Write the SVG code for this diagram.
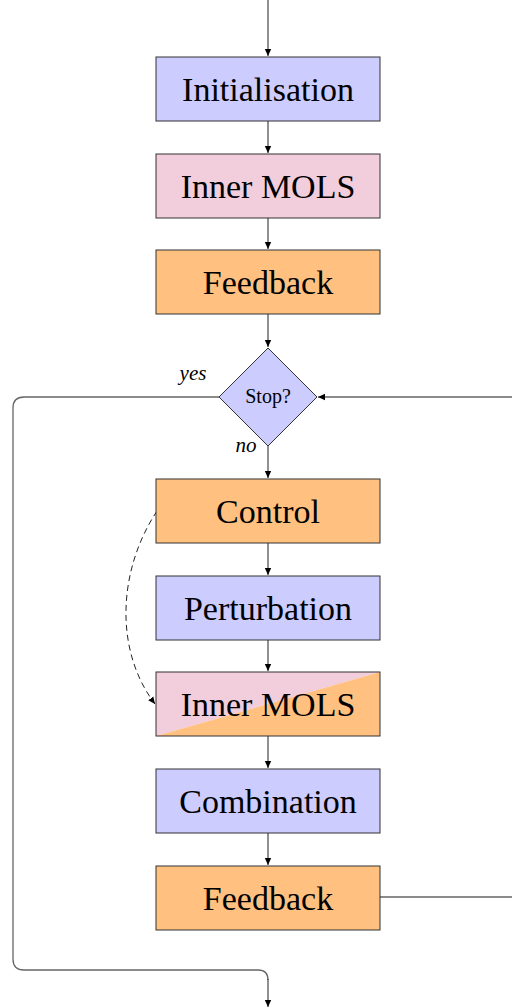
<svg xmlns="http://www.w3.org/2000/svg" width="512" height="1008" viewBox="0 0 512 1008">
<style>
.box{stroke:#333;stroke-width:1}
.blue{fill:#ccccff}
.pink{fill:#f2cddb}
.orange{fill:#ffc080}
.t{font-family:"Liberation Serif",serif;font-size:34px;fill:#000;text-anchor:middle}
.s{font-family:"Liberation Serif",serif;font-size:20px;fill:#000;text-anchor:middle}
.i{font-family:"Liberation Serif",serif;font-size:21px;font-style:italic;fill:#000;text-anchor:middle}
.c{fill:none;stroke:#222;stroke-width:1}
.g{fill:none;stroke:#666;stroke-width:1.3}
</style>
<defs>
<marker id="ah" markerWidth="8" markerHeight="8" refX="7" refY="4" orient="auto" markerUnits="userSpaceOnUse">
<path d="M0,0.8 L7,4 L0,7.2 Z" fill="#000"/>
</marker>
</defs>
<g id="connectors">
<path class="c" d="M268,0 V56" marker-end="url(#ah)"/>
<path class="c" d="M268,121 V153" marker-end="url(#ah)"/>
<path class="c" d="M268,218 V249" marker-end="url(#ah)"/>
<path class="c" d="M268,314 V347" marker-end="url(#ah)"/>
<path class="c" d="M268,445 V478" marker-end="url(#ah)"/>
<path class="c" d="M268,543 V575" marker-end="url(#ah)"/>
<path class="c" d="M268,640 V671" marker-end="url(#ah)"/>
<path class="c" d="M268,736 V768" marker-end="url(#ah)"/>
<path class="c" d="M268,833 V865" marker-end="url(#ah)"/>
<path class="g" d="M219,397 H24 Q13,397 13,408 V959 Q13,970 24,970 H258 Q268,970 268,980"/>
<path class="c" d="M268,979 V1007" marker-end="url(#ah)"/>
<path class="g" d="M380,897 H514 V397 H320"/>
<path class="c" d="M322,397 H318" marker-end="url(#ah)"/>
<path class="c" d="M157,511 C118,570 114,650 155,704" stroke-dasharray="6,4" marker-end="url(#ah)"/>
<text class="i" x="193" y="380">yes</text>
<text class="i" x="246" y="452">no</text>
</g>
<g id="initialisation"><rect class="box blue" x="156" y="57" width="224" height="64"/><text class="t" x="268" y="101">Initialisation</text></g>
<g id="inner-mols-1"><rect class="box pink" x="156" y="154" width="224" height="64"/><text class="t" x="268" y="198">Inner MOLS</text></g>
<g id="feedback-1"><rect class="box orange" x="156" y="250" width="224" height="64"/><text class="t" x="268" y="294">Feedback</text></g>
<g id="stop"><path class="box blue" d="M268,348 L317,397 L268,446 L219,397 Z"/><text class="s" x="268" y="403">Stop?</text></g>
<g id="control"><rect class="box orange" x="156" y="479" width="224" height="64"/><text class="t" x="268" y="523">Control</text></g>
<g id="perturbation"><rect class="box blue" x="156" y="576" width="224" height="64"/><text class="t" x="268" y="620">Perturbation</text></g>
<g id="inner-mols-2"><path class="pink" d="M156,672 H380 L156,736 Z"/><path class="orange" d="M380,672 V736 H156 Z"/><rect class="box" x="156" y="672" width="224" height="64" fill="none"/><text class="t" x="268" y="716">Inner MOLS</text></g>
<g id="combination"><rect class="box blue" x="156" y="769" width="224" height="64"/><text class="t" x="268" y="813">Combination</text></g>
<g id="feedback-2"><rect class="box orange" x="156" y="866" width="224" height="64"/><text class="t" x="268" y="910">Feedback</text></g>
</svg>
